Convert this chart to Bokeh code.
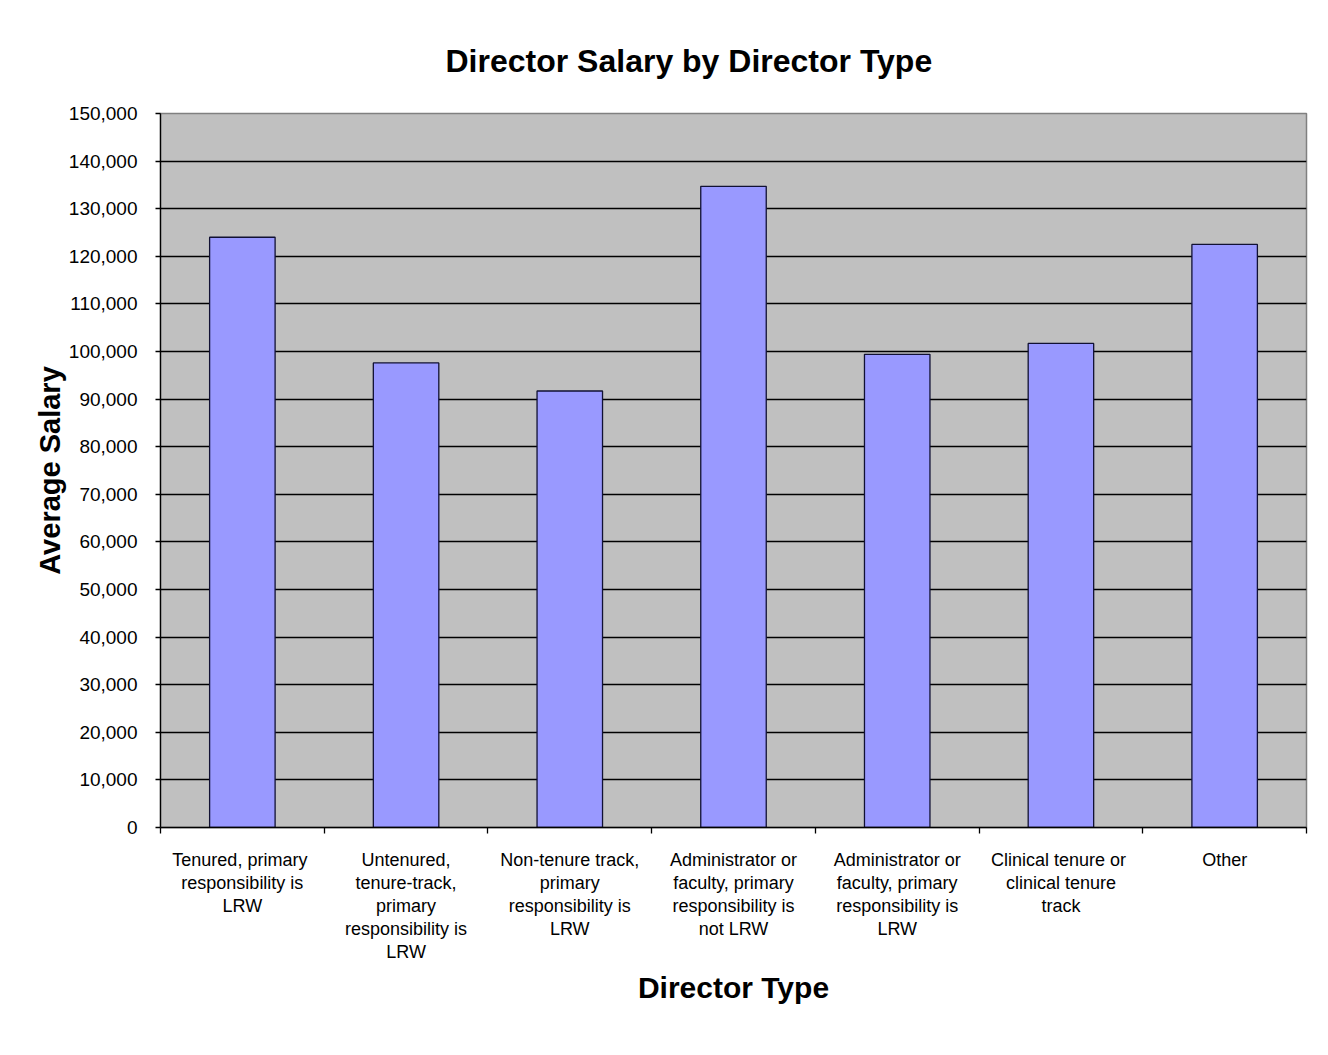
from bokeh.plotting import figure
from bokeh.models import FixedTicker, NumeralTickFormatter, Range1d, ColumnDataSource, Label
from bokeh.embed import file_html
from bokeh.resources import INLINE

# ---- data ----
categories = [
    "Tenured, primary responsibility is LRW",
    "Untenured, tenure-track, primary responsibility is LRW",
    "Non-tenure track, primary responsibility is LRW",
    "Administrator or faculty, primary responsibility is not LRW",
    "Administrator or faculty, primary responsibility is LRW",
    "Clinical tenure or clinical tenure track",
    "Other",
]
tick_labels = [
    "Tenured,  primary\nresponsibility is\nLRW",
    "Untenured,\ntenure-track,\nprimary\nresponsibility is\nLRW",
    "Non-tenure track,\nprimary\nresponsibility is\nLRW",
    "Administrator or\nfaculty, primary\nresponsibility is\nnot LRW",
    "Administrator or\nfaculty, primary\nresponsibility is\nLRW",
    "Clinical tenure  or\nclinical tenure\ntrack",
    "Other",
]
salaries = [124000, 97600, 91700, 134700, 99400, 101700, 122500]
y_ticks = list(range(0, 150001, 10000))

FONT = "Liberation Sans"

n = len(categories)
x_pos = list(range(1, n + 1))
source = ColumnDataSource(dict(x=x_pos, top=salaries, cat=categories))

p = figure(
    width=1312, height=1039, output_backend="svg", toolbar_location=None,
    x_range=Range1d(0.5, n + 0.5), y_range=Range1d(0, 150000),
    min_border_left=160, min_border_right=6, min_border_top=113, min_border_bottom=212,
    title="Director Salary by Director Type",
)

p.vbar(x="x", top="top", width=0.4, source=source,
       fill_color="#9999FF", line_color="#111133", line_width=1.3)

p.background_fill_color = "#C0C0C0"
p.border_fill_color = "white"
p.outline_line_color = "#808080"
p.outline_line_width = 1.5

# title
p.title.text_font = FONT
p.title.text_font_size = "32px"
p.title.text_font_style = "bold"
p.title.text_color = "black"
p.title.align = "left"
p.title.offset = 285
p.title.standoff = 70

# grid
p.xgrid.grid_line_color = None
p.ygrid.grid_line_color = "black"
p.ygrid.grid_line_width = 1.5
p.ygrid.ticker = FixedTicker(ticks=y_ticks)

# y axis
ya = p.yaxis[0]
ya.ticker = FixedTicker(ticks=y_ticks)
ya.formatter = NumeralTickFormatter(format="0,0")
ya.axis_label = "Average Salary"
ya.axis_label_text_font = FONT
ya.axis_label_text_font_size = "29px"
ya.axis_label_text_font_style = "bold"
ya.axis_label_text_color = "black"
ya.axis_label_standoff = 0
ya.major_label_text_font = FONT
ya.major_label_text_font_size = "19px"
ya.major_label_text_color = "black"
ya.major_label_standoff = 18
ya.major_tick_out = 5
ya.major_tick_in = 0
ya.minor_tick_line_color = None
ya.axis_line_color = "black"
ya.axis_line_width = 1.3
ya.major_tick_line_color = "black"
ya.major_tick_line_width = 1.3

# x axis
xa = p.xaxis[0]
xa.ticker = FixedTicker(ticks=x_pos, minor_ticks=[i + 0.5 for i in range(n + 1)])
xa.major_label_overrides = {x: lab for x, lab in zip(x_pos, tick_labels)}
xa.major_label_text_font = FONT
xa.major_label_text_font_size = "18px"
xa.major_label_text_color = "black"
xa.major_label_text_line_height = 1.15
xa.major_label_standoff = 16
xa.major_label_orientation = "horizontal"
xa.major_tick_line_color = None
xa.major_tick_out = 0
xa.major_tick_in = 0
xa.minor_tick_line_color = "black"
xa.minor_tick_line_width = 1.3
xa.minor_tick_out = 6
xa.minor_tick_in = 0
xa.axis_line_color = "black"
xa.axis_line_width = 1.3
xa.axis_label = "Director Type"
xa.axis_label_text_font = FONT
xa.axis_label_text_font_size = "30px"
xa.axis_label_text_font_style = "bold"
xa.axis_label_text_color = "black"
xa.axis_label_standoff = 6

# outer chart border, drawn as the box of an empty label
frame_box = Label(x=5, y=2, x_units="canvas", y_units="canvas", text=" ",
                  text_font_size="1px", text_align="left", text_baseline="top",
                  border_line_color="black", border_line_width=1.5,
                  background_fill_color=None,
                  padding=dict(left=0, right=1303, top=0, bottom=1033))
p.add_layout(frame_box)

open("out.html", "w").write(file_html(p, INLINE))
